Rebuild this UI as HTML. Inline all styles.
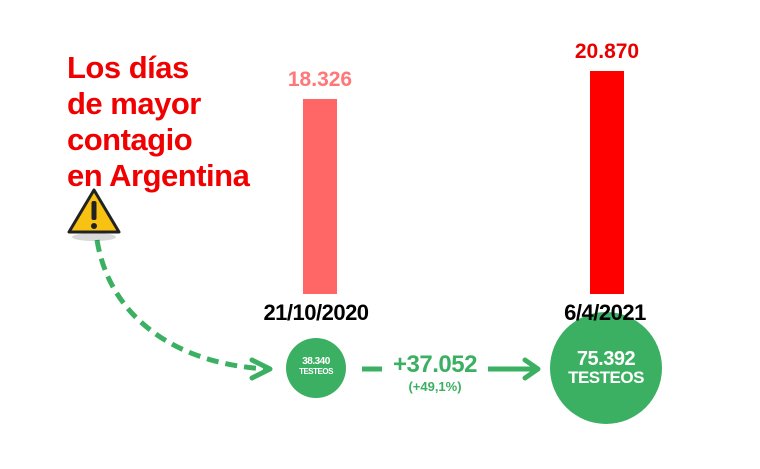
<!DOCTYPE html>
<html><head><meta charset="utf-8"><style>
body{margin:0;width:760px;height:469px;background:#fff;overflow:hidden;position:relative;font-family:"Liberation Sans",sans-serif}
.t{position:absolute;font-weight:bold;white-space:nowrap}
</style></head><body>
<div class="t" style="left:67px;top:50px;color:#f00000;font-size:31px;line-height:36px;letter-spacing:-0.5px">Los días<br>de mayor<br>contagio<br>en Argentina</div>
<div style="position:absolute;left:303px;top:99px;width:34px;height:195px;background:#ff6666"></div>
<div style="position:absolute;left:590px;top:71px;width:34px;height:223px;background:#ff0000"></div>
<div class="t" style="left:270px;top:68px;width:100px;text-align:center;color:#ff7777;font-size:21px">18.326</div>
<div class="t" style="left:557px;top:40px;width:100px;text-align:center;color:#e80000;font-size:21px">20.870</div>
<div class="t" style="left:246px;top:300px;width:140px;text-align:center;color:#000;font-size:22px;letter-spacing:-0.5px">21/10/2020</div>
<svg width="760" height="469" style="position:absolute;left:0;top:0">
<circle cx="316" cy="368" r="30" fill="#3cb062"/>
<circle cx="606" cy="368" r="56" fill="#3cb062"/>
<path d="M97 240 C110 320 180 365 268 369" fill="none" stroke="#3cb062" stroke-width="5" stroke-dasharray="12 7"/>
<path d="M252 360 L270 369 L252 378" fill="none" stroke="#3cb062" stroke-width="5" stroke-linecap="round" stroke-linejoin="round"/>
<line x1="362" y1="369" x2="382" y2="369" stroke="#3cb062" stroke-width="5"/>
<line x1="488" y1="369" x2="536" y2="369" stroke="#3cb062" stroke-width="5"/>
<path d="M525 360 L538 369 L525 378" fill="none" stroke="#3cb062" stroke-width="5" stroke-linecap="round" stroke-linejoin="round"/>
<ellipse cx="94" cy="237" rx="22" ry="4" fill="#000" opacity="0.15"/>
<path d="M94 190 L119 232 L69 232 Z" fill="#f7c212" stroke="#222" stroke-width="3" stroke-linejoin="round"/>
<rect x="91.5" y="201" width="5" height="19" rx="2" fill="#222"/>
<circle cx="94" cy="226" r="3" fill="#222"/>
</svg>
<div class="t" style="left:540px;top:300px;width:130px;text-align:center;color:#000;font-size:22px;letter-spacing:-0.5px">6/4/2021</div>
<div class="t" style="left:286px;top:357px;width:60px;text-align:center;color:#fff;font-size:10px;line-height:10px;letter-spacing:-0.5px">38.340<br><span style="font-size:8px">TESTEOS</span></div>
<div class="t" style="left:382px;top:351px;width:106px;text-align:center;color:#3cb062;font-size:24px;letter-spacing:-0.5px">+37.052</div>
<div class="t" style="left:382px;top:379px;width:106px;text-align:center;color:#3cb062;font-size:13px">(+49,1%)</div>
<div class="t" style="left:546px;top:350px;width:120px;text-align:center;color:#fff;font-size:20px;line-height:18px;letter-spacing:-0.5px">75.392<br><span style="font-size:17px">TESTEOS</span></div>
</body></html>
